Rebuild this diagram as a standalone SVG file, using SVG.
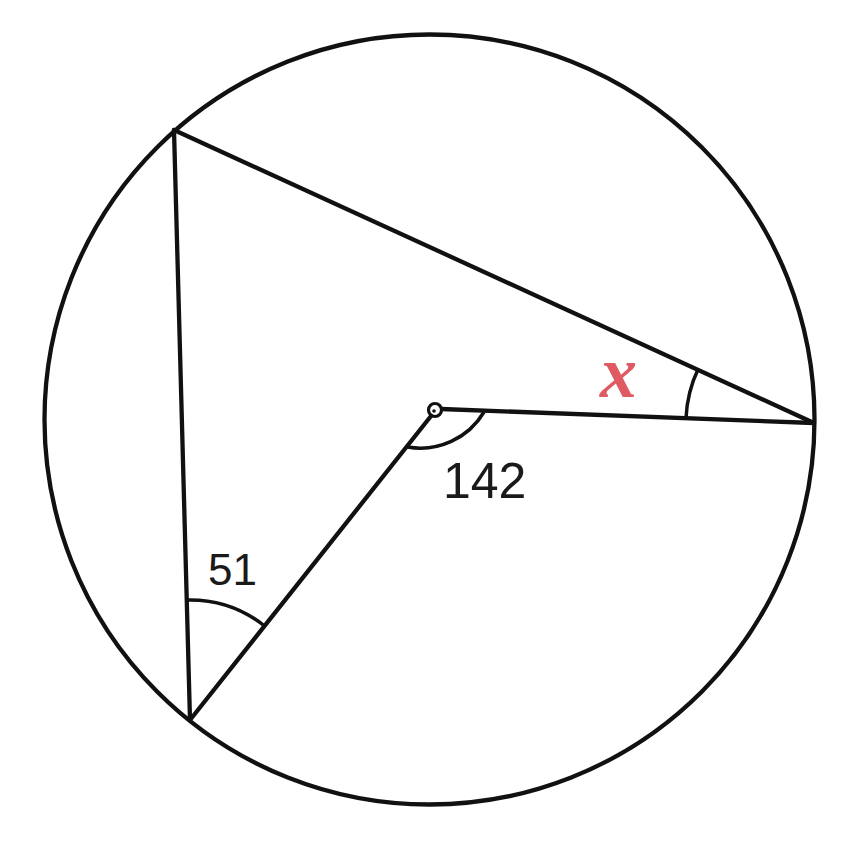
<svg xmlns="http://www.w3.org/2000/svg" width="856" height="851" viewBox="0 0 856 851">
<style>
.ln{fill:none;stroke:#111;stroke-width:4.3;stroke-linecap:round;stroke-linejoin:round}
.arc{fill:none;stroke:#111;stroke-width:3.5}
.lbl{font-family:"Liberation Sans",Arial,sans-serif;fill:#1a1a1a}
</style>
<rect width="856" height="851" fill="#fff"/>
<g id="circle"><circle class="ln" cx="429.5" cy="419.5" r="385"/></g>
<g id="connectors">
<line class="ln" x1="174" y1="130" x2="814" y2="423"/>
<line class="ln" x1="174" y1="130" x2="190" y2="720"/>
<line class="ln" x1="190" y1="720" x2="431" y2="416"/>
<line class="ln" x1="441" y1="409" x2="814" y2="423"/>
</g>
<g id="center"><circle cx="435" cy="410" r="6.5" fill="#fff" stroke="#111" stroke-width="3.2"/><circle cx="434" cy="411" r="1.8" fill="#111"/></g>
<g id="angles">
<path class="arc" d="M 686 418.2 A 128 128 0 0 1 698.4 368.4"/>
<path class="arc" d="M 484 412 A 74 74 0 0 1 407.5 447"/>
<path class="arc" d="M 186.7 600 A 120 120 0 0 1 264.6 626"/>
</g>
<g id="labels">
<text class="lbl" x="443" y="498" font-size="50">142</text>
<text class="lbl" x="208" y="585" font-size="44">51</text>
<text x="600" y="397" font-size="74" font-style="italic" font-weight="bold" font-family="'Liberation Serif','Times New Roman',serif" fill="#e05a63">x</text>
</g>
</svg>
